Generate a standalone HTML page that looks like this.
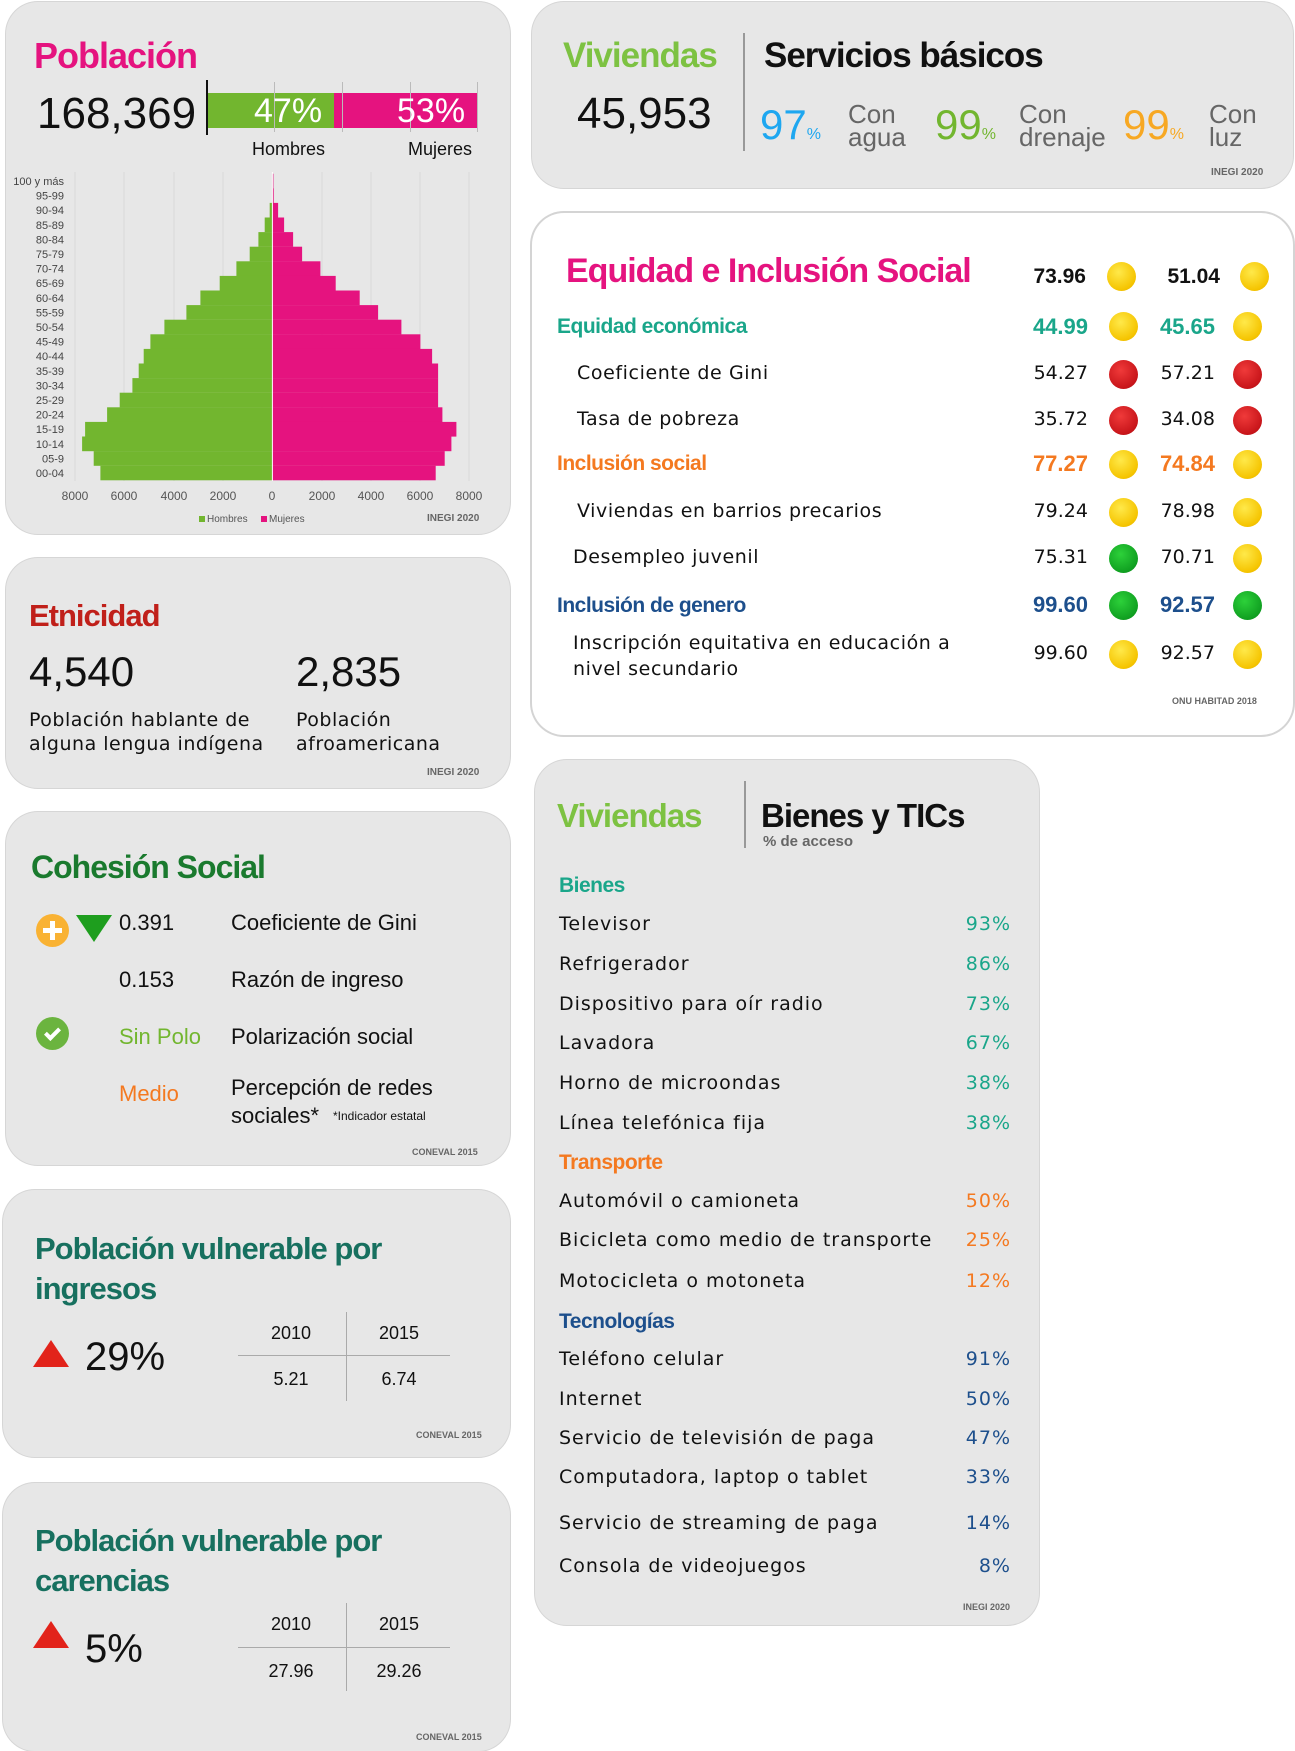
<!DOCTYPE html>
<html><head><meta charset="utf-8"><style>
*{margin:0;padding:0;box-sizing:border-box}
body{width:1295px;height:1751px;background:#fff;position:relative;overflow:hidden;font-family:"Liberation Sans",sans-serif;color:#111}
.p{position:absolute;background:#e7e7e7;border-radius:32px;box-shadow:0 0 0 1px #d6d6d6}
.a{position:absolute;white-space:nowrap;line-height:1}
.b{font-weight:bold}
.src{position:absolute;font-size:10px;font-weight:bold;color:#666;white-space:nowrap;line-height:1}
.w{font-family:"DejaVu Sans",sans-serif}
.c{position:absolute;width:29px;height:29px;border-radius:50%}
.y{background:radial-gradient(circle at 40% 35%,#ffe94a,#f5c400 70%,#d9a800)}
.r{background:radial-gradient(circle at 40% 35%,#f03a3a,#c8151a 70%,#a00c10)}
.g{background:radial-gradient(circle at 40% 35%,#2dd13a,#10a021 70%,#0a7f17)}
</style></head><body>

<div class="p" style="left:6px;top:2px;width:504px;height:532px"></div>
<div class="p" style="left:532px;top:2px;width:761px;height:186px"></div>
<div class="p" style="left:532px;top:213px;width:761px;height:522px;background:#fff;box-shadow:0 0 0 2px #d4d4d4"></div>
<div class="p" style="left:6px;top:558px;width:504px;height:230px"></div>
<div class="p" style="left:6px;top:812px;width:504px;height:353px"></div>
<div class="p" style="left:3px;top:1190px;width:507px;height:267px"></div>
<div class="p" style="left:3px;top:1483px;width:507px;height:268px"></div>
<div class="p" style="left:535px;top:760px;width:504px;height:865px"></div>

<!-- Poblacion -->
<div class="a b" style="left:34px;top:38px;font-size:36px;color:#e5137f;letter-spacing:-1px">Población</div>
<div class="a" style="left:37px;top:92px;font-size:44px">168,369</div>
<div style="position:absolute;left:207px;top:93px;width:127px;height:35px;background:#72b62f"></div>
<div style="position:absolute;left:334px;top:93px;width:143px;height:35px;background:#e5137f"></div>
<div style="position:absolute;left:206px;top:80px;width:2px;height:55px;background:#111"></div>
<div style="position:absolute;left:274px;top:82px;width:1px;height:50px;background:#bbb"></div>
<div style="position:absolute;left:342px;top:82px;width:1px;height:50px;background:#bbb"></div>
<div style="position:absolute;left:410px;top:82px;width:1px;height:50px;background:#bbb"></div>
<div style="position:absolute;left:477px;top:82px;width:1px;height:50px;background:#bbb"></div>
<div class="a" style="left:254px;top:94px;font-size:34px;color:#fff">47%</div>
<div class="a" style="left:397px;top:94px;font-size:34px;color:#fff">53%</div>
<div class="a" style="left:252px;top:140px;font-size:18px">Hombres</div>
<div class="a" style="left:408px;top:140px;font-size:18px">Mujeres</div>

<svg style="position:absolute;left:0;top:0" width="520" height="540">
<g stroke="#d8d8d8" stroke-width="1">
<line x1="75" y1="172" x2="75" y2="481"/><line x1="124" y1="172" x2="124" y2="481"/><line x1="174" y1="172" x2="174" y2="481"/><line x1="223" y1="172" x2="223" y2="481"/><line x1="322" y1="172" x2="322" y2="481"/><line x1="371" y1="172" x2="371" y2="481"/><line x1="420" y1="172" x2="420" y2="481"/><line x1="469" y1="172" x2="469" y2="481"/>
</g>
<g fill="#72b62f">
<rect x="269.7" y="202.9" width="2.7" height="14.7"/><rect x="264.7" y="217.5" width="7.7" height="14.7"/><rect x="258.4" y="232.1" width="14" height="14.7"/><rect x="249.7" y="246.7" width="22.7" height="14.7"/><rect x="236.4" y="261.3" width="36" height="14.7"/><rect x="219.7" y="275.9" width="52.7" height="14.7"/><rect x="200.4" y="290.5" width="72" height="14.7"/><rect x="186.4" y="305.1" width="86" height="14.7"/><rect x="164.4" y="319.7" width="108" height="14.7"/><rect x="150.4" y="334.3" width="122" height="14.7"/><rect x="143.7" y="348.9" width="128.7" height="14.7"/><rect x="138.7" y="363.5" width="133.7" height="14.7"/><rect x="132.4" y="378.1" width="140" height="14.7"/><rect x="119.7" y="392.7" width="152.7" height="14.7"/><rect x="107.1" y="407.3" width="165.3" height="14.7"/><rect x="85.1" y="421.9" width="187.3" height="14.7"/><rect x="82.1" y="436.5" width="190.3" height="14.7"/><rect x="93.7" y="451.1" width="178.7" height="14.7"/><rect x="100.4" y="465.7" width="172" height="14.6"/>
</g>
<g fill="#e5137f">
<rect x="272.4" y="173.7" width="1" height="14.7"/><rect x="272.4" y="188.3" width="1.3" height="14.7"/><rect x="272.4" y="202.9" width="5.7" height="14.7"/><rect x="272.4" y="217.5" width="11.7" height="14.7"/><rect x="272.4" y="232.1" width="20.7" height="14.7"/><rect x="272.4" y="246.7" width="29.7" height="14.7"/><rect x="272.4" y="261.3" width="48" height="14.7"/><rect x="272.4" y="275.9" width="63.3" height="14.7"/><rect x="272.4" y="290.5" width="87.3" height="14.7"/><rect x="272.4" y="305.1" width="105.7" height="14.7"/><rect x="272.4" y="319.7" width="129" height="14.7"/><rect x="272.4" y="334.3" width="148" height="14.7"/><rect x="272.4" y="348.9" width="159.7" height="14.7"/><rect x="272.4" y="363.5" width="165.7" height="14.7"/><rect x="272.4" y="378.1" width="165.7" height="14.7"/><rect x="272.4" y="392.7" width="165.7" height="14.7"/><rect x="272.4" y="407.3" width="170" height="14.7"/><rect x="272.4" y="421.9" width="184" height="14.7"/><rect x="272.4" y="436.5" width="179" height="14.7"/><rect x="272.4" y="451.1" width="172.3" height="14.7"/><rect x="272.4" y="465.7" width="163.3" height="14.6"/>
</g>
<line x1="272.4" y1="172" x2="272.4" y2="481" stroke="#fff" stroke-width="1"/>
<g font-family="Liberation Sans" font-size="11" fill="#444" text-anchor="end">
<text x="64" y="185">100 y más</text><text x="64" y="199.6">95-99</text><text x="64" y="214.2">90-94</text><text x="64" y="228.8">85-89</text><text x="64" y="243.4">80-84</text><text x="64" y="258">75-79</text><text x="64" y="272.6">70-74</text><text x="64" y="287.2">65-69</text><text x="64" y="301.8">60-64</text><text x="64" y="316.4">55-59</text><text x="64" y="331">50-54</text><text x="64" y="345.6">45-49</text><text x="64" y="360.2">40-44</text><text x="64" y="374.8">35-39</text><text x="64" y="389.4">30-34</text><text x="64" y="404">25-29</text><text x="64" y="418.6">20-24</text><text x="64" y="433.2">15-19</text><text x="64" y="447.8">10-14</text><text x="64" y="462.4">05-9</text><text x="64" y="477">00-04</text>
</g>
<g font-family="Liberation Sans" font-size="12" fill="#555" text-anchor="middle">
<text x="75" y="500">8000</text><text x="124" y="500">6000</text><text x="174" y="500">4000</text><text x="223" y="500">2000</text><text x="272" y="500">0</text><text x="322" y="500">2000</text><text x="371" y="500">4000</text><text x="420" y="500">6000</text><text x="469" y="500">8000</text>
</g>
<rect x="199" y="516" width="6" height="6" fill="#72b62f"/><text x="207" y="522" font-family="Liberation Sans" font-size="10" fill="#555">Hombres</text>
<rect x="261" y="516" width="6" height="6" fill="#e5137f"/><text x="269" y="522" font-family="Liberation Sans" font-size="10" fill="#555">Mujeres</text>
<text x="427" y="521" font-family="Liberation Sans" font-size="10" font-weight="bold" fill="#666">INEGI 2020</text>
</svg>

<!-- Viviendas servicios -->
<div class="a b" style="left:563px;top:38px;font-size:35px;color:#7dc242;letter-spacing:-1px">Viviendas</div>
<div style="position:absolute;left:743px;top:33px;width:2px;height:118px;background:#999"></div>
<div class="a b" style="left:764px;top:38px;font-size:35px;letter-spacing:-1px">Servicios básicos</div>
<div class="a" style="left:577px;top:92px;font-size:44px">45,953</div>
<div class="a" style="left:760px;top:104px;font-size:42px;color:#1ea7f0">97<span style="font-size:16px">%</span></div>
<div class="a" style="left:848px;top:103px;font-size:26px;color:#666;line-height:23px">Con<br>agua</div>
<div class="a" style="left:935px;top:104px;font-size:42px;color:#72b62f">99<span style="font-size:16px">%</span></div>
<div class="a" style="left:1019px;top:103px;font-size:26px;color:#666;line-height:23px">Con<br>drenaje</div>
<div class="a" style="left:1123px;top:104px;font-size:42px;color:#f7a823">99<span style="font-size:16px">%</span></div>
<div class="a" style="left:1209px;top:103px;font-size:26px;color:#666;line-height:23px">Con<br>luz</div>
<div class="src" style="left:1211px;top:168px">INEGI 2020</div>

<!-- Equidad -->
<div class="a b" style="left:566px;top:254px;font-size:34px;color:#e5137f;letter-spacing:-1px">Equidad e Inclusión Social</div>
<div class="a b" style="left:1006px;top:266px;font-size:21px;width:80px;text-align:right">73.96</div>
<div class="c y" style="left:1107px;top:262px"></div>
<div class="a b" style="left:1140px;top:266px;font-size:21px;width:80px;text-align:right">51.04</div>
<div class="c y" style="left:1240px;top:262px"></div>

<div class="a b" style="left:557px;top:316px;font-size:21px;color:#1aa68a;letter-spacing:-0.5px">Equidad económica</div>
<div class="a b" style="left:1008px;top:316px;font-size:22px;width:80px;text-align:right;color:#1aa68a">44.99</div>
<div class="c y" style="left:1109px;top:312px"></div>
<div class="a b" style="left:1135px;top:316px;font-size:22px;width:80px;text-align:right;color:#1aa68a">45.65</div>
<div class="c y" style="left:1233px;top:312px"></div>

<div class="a w" style="left:577px;top:364px;font-size:19px;letter-spacing:0.6px">Coeficiente de Gini</div>
<div class="a w" style="left:1008px;top:364px;font-size:19px;width:80px;text-align:right">54.27</div>
<div class="c r" style="left:1109px;top:360px"></div>
<div class="a w" style="left:1135px;top:364px;font-size:19px;width:80px;text-align:right">57.21</div>
<div class="c r" style="left:1233px;top:360px"></div>

<div class="a w" style="left:577px;top:410px;font-size:19px;letter-spacing:0.6px">Tasa de pobreza</div>
<div class="a w" style="left:1008px;top:410px;font-size:19px;width:80px;text-align:right">35.72</div>
<div class="c r" style="left:1109px;top:406px"></div>
<div class="a w" style="left:1135px;top:410px;font-size:19px;width:80px;text-align:right">34.08</div>
<div class="c r" style="left:1233px;top:406px"></div>

<div class="a b" style="left:557px;top:453px;font-size:21px;color:#f47920;letter-spacing:-0.5px">Inclusión social</div>
<div class="a b" style="left:1008px;top:453px;font-size:22px;width:80px;text-align:right;color:#f47920">77.27</div>
<div class="c y" style="left:1109px;top:450px"></div>
<div class="a b" style="left:1135px;top:453px;font-size:22px;width:80px;text-align:right;color:#f47920">74.84</div>
<div class="c y" style="left:1233px;top:450px"></div>

<div class="a w" style="left:577px;top:502px;font-size:19px;letter-spacing:0.6px">Viviendas en barrios precarios</div>
<div class="a w" style="left:1008px;top:502px;font-size:19px;width:80px;text-align:right">79.24</div>
<div class="c y" style="left:1109px;top:498px"></div>
<div class="a w" style="left:1135px;top:502px;font-size:19px;width:80px;text-align:right">78.98</div>
<div class="c y" style="left:1233px;top:498px"></div>

<div class="a w" style="left:573px;top:548px;font-size:19px;letter-spacing:0.6px">Desempleo juvenil</div>
<div class="a w" style="left:1008px;top:548px;font-size:19px;width:80px;text-align:right">75.31</div>
<div class="c g" style="left:1109px;top:544px"></div>
<div class="a w" style="left:1135px;top:548px;font-size:19px;width:80px;text-align:right">70.71</div>
<div class="c y" style="left:1233px;top:544px"></div>

<div class="a b" style="left:557px;top:595px;font-size:21px;color:#1d4f8c;letter-spacing:-0.5px">Inclusión de genero</div>
<div class="a b" style="left:1008px;top:594px;font-size:22px;width:80px;text-align:right;color:#1d4f8c">99.60</div>
<div class="c g" style="left:1109px;top:591px"></div>
<div class="a b" style="left:1135px;top:594px;font-size:22px;width:80px;text-align:right;color:#1d4f8c">92.57</div>
<div class="c g" style="left:1233px;top:591px"></div>

<div class="a w" style="left:573px;top:630px;font-size:19px;letter-spacing:0.6px;line-height:26px">Inscripción equitativa en educación a<br>nivel secundario</div>
<div class="a w" style="left:1008px;top:644px;font-size:19px;width:80px;text-align:right">99.60</div>
<div class="c y" style="left:1109px;top:640px"></div>
<div class="a w" style="left:1135px;top:644px;font-size:19px;width:80px;text-align:right">92.57</div>
<div class="c y" style="left:1233px;top:640px"></div>
<div class="src" style="left:1172px;top:697px;font-size:9px">ONU HABITAD 2018</div>

<!-- Etnicidad -->
<div class="a b" style="left:29px;top:600px;font-size:31px;color:#c0201a;letter-spacing:-1px">Etnicidad</div>
<div class="a" style="left:29px;top:651px;font-size:42px">4,540</div>
<div class="a" style="left:296px;top:651px;font-size:42px">2,835</div>
<div class="a w" style="left:29px;top:708px;font-size:19px;line-height:24px;letter-spacing:0.5px">Población hablante de<br>alguna lengua indígena</div>
<div class="a w" style="left:296px;top:708px;font-size:19px;line-height:24px;letter-spacing:0.5px">Población<br>afroamericana</div>
<div class="src" style="left:427px;top:768px">INEGI 2020</div>

<!-- Cohesion -->
<div class="a b" style="left:31px;top:851px;font-size:32px;color:#1a7a2e;letter-spacing:-1px">Cohesión Social</div>
<div style="position:absolute;left:36px;top:914px;width:33px;height:33px;border-radius:50%;background:#f9b233"></div>
<div style="position:absolute;left:43px;top:928px;width:19px;height:5px;background:#fff"></div>
<div style="position:absolute;left:50px;top:921px;width:5px;height:19px;background:#fff"></div>
<div style="position:absolute;left:76px;top:915px;width:0;height:0;border-left:18px solid transparent;border-right:18px solid transparent;border-top:27px solid #1e9e1e"></div>
<div class="a" style="left:119px;top:912px;font-size:22px">0.391</div>
<div class="a" style="left:231px;top:912px;font-size:22px">Coeficiente de Gini</div>
<div class="a" style="left:119px;top:969px;font-size:22px">0.153</div>
<div class="a" style="left:231px;top:969px;font-size:22px">Razón de ingreso</div>
<div style="position:absolute;left:36px;top:1017px;width:33px;height:33px;border-radius:50%;background:#6bb43f"></div>
<div style="position:absolute;left:48px;top:1025px;width:9px;height:15px;border-right:4px solid #fff;border-bottom:4px solid #fff;transform:rotate(45deg)"></div>
<div class="a" style="left:119px;top:1026px;font-size:22px;color:#72b62f">Sin Polo</div>
<div class="a" style="left:231px;top:1026px;font-size:22px">Polarización social</div>
<div class="a" style="left:119px;top:1083px;font-size:22px;color:#f47920">Medio</div>
<div class="a" style="left:231px;top:1074px;font-size:22px;line-height:28px">Percepción de redes<br>sociales*</div>
<div class="a" style="left:333px;top:1110px;font-size:12px">*Indicador estatal</div>
<div class="src" style="left:412px;top:1148px;font-size:9px">CONEVAL 2015</div>

<!-- Vulnerable ingresos -->
<div class="a b" style="left:35px;top:1229px;font-size:31px;color:#17705f;line-height:40px;letter-spacing:-1px">Población vulnerable por<br>ingresos</div>
<div style="position:absolute;left:33px;top:1340px;width:0;height:0;border-left:18px solid transparent;border-right:18px solid transparent;border-bottom:27px solid #e2231a"></div>
<div class="a" style="left:85px;top:1337px;font-size:40px">29%</div>
<div style="position:absolute;left:238px;top:1355px;width:212px;height:1px;background:#aaa"></div>
<div style="position:absolute;left:346px;top:1312px;width:1px;height:89px;background:#aaa"></div>
<div class="a" style="left:261px;top:1324px;width:60px;text-align:center;font-size:18px">2010</div>
<div class="a" style="left:369px;top:1324px;width:60px;text-align:center;font-size:18px">2015</div>
<div class="a" style="left:261px;top:1370px;width:60px;text-align:center;font-size:18px">5.21</div>
<div class="a" style="left:369px;top:1370px;width:60px;text-align:center;font-size:18px">6.74</div>
<div class="src" style="left:416px;top:1431px;font-size:9px">CONEVAL 2015</div>

<!-- Vulnerable carencias -->
<div class="a b" style="left:35px;top:1521px;font-size:31px;color:#17705f;line-height:40px;letter-spacing:-1px">Población vulnerable por<br>carencias</div>
<div style="position:absolute;left:33px;top:1621px;width:0;height:0;border-left:18px solid transparent;border-right:18px solid transparent;border-bottom:27px solid #e2231a"></div>
<div class="a" style="left:85px;top:1629px;font-size:40px">5%</div>
<div style="position:absolute;left:238px;top:1647px;width:212px;height:1px;background:#aaa"></div>
<div style="position:absolute;left:346px;top:1603px;width:1px;height:88px;background:#aaa"></div>
<div class="a" style="left:261px;top:1615px;width:60px;text-align:center;font-size:18px">2010</div>
<div class="a" style="left:369px;top:1615px;width:60px;text-align:center;font-size:18px">2015</div>
<div class="a" style="left:261px;top:1662px;width:60px;text-align:center;font-size:18px">27.96</div>
<div class="a" style="left:369px;top:1662px;width:60px;text-align:center;font-size:18px">29.26</div>
<div class="src" style="left:416px;top:1733px;font-size:9px">CONEVAL 2015</div>

<!-- Bienes y TICs -->
<div class="a b" style="left:557px;top:799px;font-size:33px;color:#7dc242;letter-spacing:-1px">Viviendas</div>
<div style="position:absolute;left:744px;top:781px;width:2px;height:67px;background:#999"></div>
<div class="a b" style="left:761px;top:799px;font-size:33px;letter-spacing:-1px">Bienes y TICs</div>
<div class="a b" style="left:763px;top:834px;font-size:15px;color:#666">% de acceso</div>
<div style="position:absolute;left:559px;top:0;width:452px;font-family:'DejaVu Sans',sans-serif;font-size:19px;letter-spacing:1px">
<div class="a b" style="top:875px;font-family:'Liberation Sans';font-size:21px;color:#1aa68a;letter-spacing:-0.5px">Bienes</div>
<div class="a" style="top:915px">Televisor</div><div class="a" style="top:915px;right:0;color:#1aa68a">93%</div>
<div class="a" style="top:955px">Refrigerador</div><div class="a" style="top:955px;right:0;color:#1aa68a">86%</div>
<div class="a" style="top:995px">Dispositivo para oír radio</div><div class="a" style="top:995px;right:0;color:#1aa68a">73%</div>
<div class="a" style="top:1034px">Lavadora</div><div class="a" style="top:1034px;right:0;color:#1aa68a">67%</div>
<div class="a" style="top:1074px">Horno de microondas</div><div class="a" style="top:1074px;right:0;color:#1aa68a">38%</div>
<div class="a" style="top:1114px">Línea telefónica fija</div><div class="a" style="top:1114px;right:0;color:#1aa68a">38%</div>
<div class="a b" style="top:1152px;font-family:'Liberation Sans';font-size:21px;color:#f47920;letter-spacing:-0.5px">Transporte</div>
<div class="a" style="top:1192px">Automóvil o camioneta</div><div class="a" style="top:1192px;right:0;color:#f47920">50%</div>
<div class="a" style="top:1231px">Bicicleta como medio de transporte</div><div class="a" style="top:1231px;right:0;color:#f47920">25%</div>
<div class="a" style="top:1272px">Motocicleta o motoneta</div><div class="a" style="top:1272px;right:0;color:#f47920">12%</div>
<div class="a b" style="top:1311px;font-family:'Liberation Sans';font-size:21px;color:#1d4f8c;letter-spacing:-0.5px">Tecnologías</div>
<div class="a" style="top:1350px">Teléfono celular</div><div class="a" style="top:1350px;right:0;color:#1d4f8c">91%</div>
<div class="a" style="top:1390px">Internet</div><div class="a" style="top:1390px;right:0;color:#1d4f8c">50%</div>
<div class="a" style="top:1429px">Servicio de televisión de paga</div><div class="a" style="top:1429px;right:0;color:#1d4f8c">47%</div>
<div class="a" style="top:1468px">Computadora, laptop o tablet</div><div class="a" style="top:1468px;right:0;color:#1d4f8c">33%</div>
<div class="a" style="top:1514px">Servicio de streaming de paga</div><div class="a" style="top:1514px;right:0;color:#1d4f8c">14%</div>
<div class="a" style="top:1557px">Consola de videojuegos</div><div class="a" style="top:1557px;right:0;color:#1d4f8c">8%</div>
</div>
<div class="src" style="left:963px;top:1603px;font-size:9px">INEGI 2020</div>
</body></html>
